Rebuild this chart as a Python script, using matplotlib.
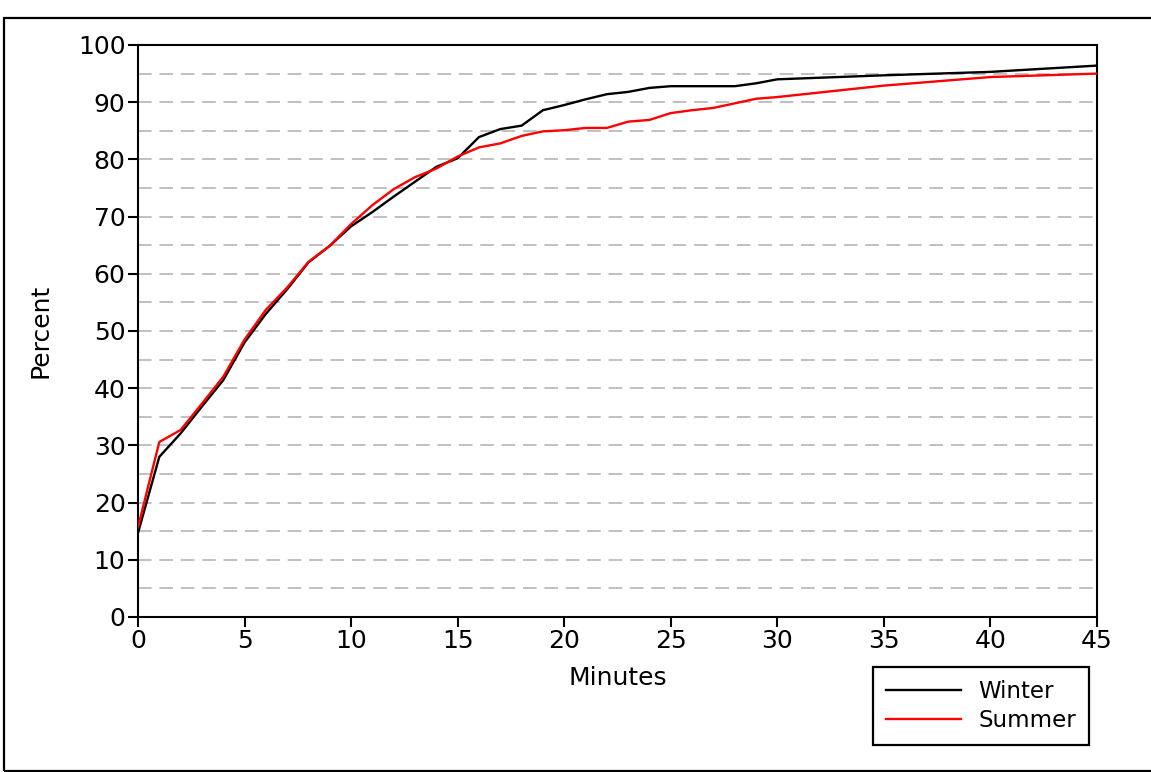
import matplotlib
matplotlib.use("Agg")
import matplotlib.pyplot as plt
from matplotlib.patches import Rectangle

minutes = [0, 1, 2, 3, 4, 5, 6, 7, 8, 9, 10, 11, 12, 13, 14, 15, 16, 17, 18, 19,
           20, 21, 22, 23, 24, 25, 26, 27, 28, 29, 30, 35, 40, 45]
winter = [14.7, 28.0, 32.1, 36.8, 41.4, 48.0, 53.0, 57.3, 62.0, 64.9, 68.3, 70.8,
          73.5, 76.1, 78.7, 80.2, 83.9, 85.3, 85.9, 88.6, 89.5, 90.5, 91.4, 91.8,
          92.5, 92.8, 92.8, 92.8, 92.8, 93.3, 94.0, 94.7, 95.3, 96.4]
summer = [15.7, 30.6, 32.7, 37.3, 42.0, 48.5, 53.7, 57.6, 62.1, 64.9, 68.7, 72.0,
          74.8, 76.9, 78.4, 80.5, 82.1, 82.8, 84.1, 84.9, 85.1, 85.5, 85.5, 86.6,
          86.9, 88.1, 88.6, 89.0, 89.8, 90.6, 90.9, 92.9, 94.4, 95.0]
series_names = ["Winter", "Summer"]
x_ticks = list(range(0, 50, 5))
y_ticks = list(range(0, 110, 10))
grid_levels = list(range(5, 100, 5))

plt.rcParams['font.family'] = ['DejaVu Sans']
W, H = 1151, 772
fig = plt.figure(figsize=(W / 100, H / 100), dpi=100)

# outer frame
fig.patches.append(Rectangle((4 / W, 1 - 771 / H), 1.2, (771 - 18) / H,
                             transform=fig.transFigure, fill=False,
                             edgecolor='black', linewidth=1.6))

ax = fig.add_axes([138 / W, 1 - 617 / H, (1097 - 138) / W, (617 - 45) / H])
for g in grid_levels:
    ax.axhline(g, color='#c0c0c0', linewidth=1.4, dashes=(7, 4), zorder=1)

ax.plot(minutes, winter, color='black', linewidth=1.7, label=series_names[0], zorder=3)
ax.plot(minutes, summer, color='#ff0000', linewidth=1.7, label=series_names[1], zorder=3)

ax.set_xlim(0, 45)
ax.set_ylim(0, 100)
ax.set_xticks(x_ticks)
ax.set_yticks(y_ticks)
ax.tick_params(direction='out', length=7, width=1.5, labelsize=18, pad=2,
               colors='black')
for s in ax.spines.values():
    s.set_linewidth(1.5)
ax.set_xlabel('Minutes', fontsize=18, labelpad=9)
ax.set_ylabel('Percent', fontsize=18, labelpad=18)

leg = fig.legend(loc='upper left', bbox_to_anchor=(873 / W, 1 - 667 / H),
                 bbox_transform=fig.transFigure, fontsize=16.5, frameon=True,
                 fancybox=False, edgecolor='black', framealpha=1,
                 handlelength=3.3, handletextpad=0.75, borderpad=0.55,
                 labelspacing=0.3, borderaxespad=0)
leg.get_frame().set_linewidth(1.6)
for h in leg.get_lines():
    h.set_linewidth(1.7)

fig.savefig('out.png', dpi=100)
